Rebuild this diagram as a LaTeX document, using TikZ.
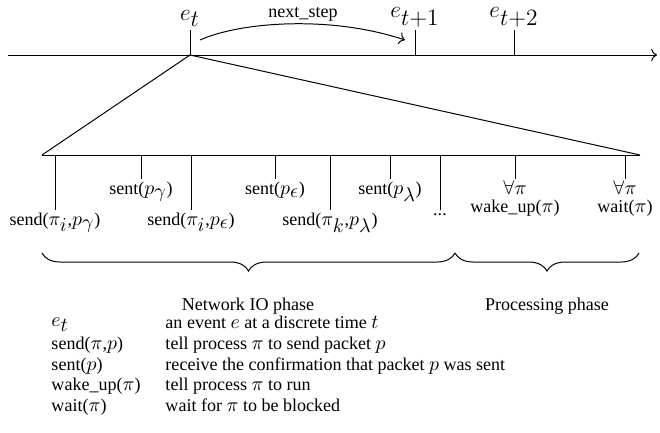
\RequirePackage{fix-cm}
\documentclass[tikz,border=0pt]{standalone}
\usepackage[no-math]{fontspec}
\setmainfont{Liberation Serif}
\usetikzlibrary{arrows.meta,decorations.pathreplacing}
\DeclareMathSizes{10}{11}{11}{8}
\DeclareMathSizes{12}{13}{13}{9}
\begin{document}
\begin{tikzpicture}[x=0.0195cm, y=-0.0195cm, line width=0.55pt,
  every node/.style={font=\rmfamily},
  toplbl/.style={anchor=south, inner sep=1.5pt, font=\rmfamily\large},
  botlbl/.style={anchor=north, inner sep=1.5pt},
  phaselbl/.style={anchor=base, inner sep=0pt},
  legkey/.style={anchor=base west, inner sep=0pt},
  legtxt/.style={anchor=base west, inner sep=0pt},
  phasebrace/.style={decorate, decoration={brace, mirror, amplitude=10pt}},
  tip/.style={-{To[length=3.2pt,width=7pt]}}]
\useasboundingbox (0,0) rectangle (660,433);

% time line
\coordinate (tl) at (8,55);
\coordinate (tr) at (657,55);
\draw[tip] (tl) -- (tr);

\coordinate (t0) at (190,55);  \coordinate (t0u) at (190,30);
\coordinate (t1) at (415,55);  \coordinate (t1u) at (415,30);
\coordinate (t2) at (514,55);  \coordinate (t2u) at (514,30);
\draw (t0) -- (t0u);
\draw (t1) -- (t1u);
\draw (t2) -- (t2u);
\node[toplbl] (et) at (t0u) {$e_t$};
\node[toplbl] (et1) at (t1u) {$e_{t+1}$};
\node[toplbl] (et2) at (t2u) {$e_{t+2}$};

% next step arrow
\coordinate (ns0) at (200,40);
\coordinate (ns1) at (405,40);
\draw[tip] (ns0) .. controls (240,22) and (330,15) .. (ns1);
\node[anchor=base, inner sep=0pt] (nslbl) at (303,17) {next\_step};

% zoom-in fan
\coordinate (fl) at (42,155);
\coordinate (fr) at (640,155);
\draw (t0) -- (fl);
\draw (t0) -- (fr);
\draw (fl) -- (fr);

% long ticks
\coordinate (a1) at (55,155);  \coordinate (a1d) at (55,210);
\coordinate (a2) at (191,155); \coordinate (a2d) at (191,210);
\coordinate (a3) at (330,155); \coordinate (a3d) at (330,210);
\coordinate (a4) at (440,155); \coordinate (a4d) at (440,210);
% short ticks
\coordinate (b1) at (141,155); \coordinate (b1d) at (141,179);
\coordinate (b2) at (275,155); \coordinate (b2d) at (275,179);
\coordinate (b3) at (390,155); \coordinate (b3d) at (390,179);
\coordinate (b4) at (515,155); \coordinate (b4d) at (515,179);
\coordinate (b5) at (625,155); \coordinate (b5d) at (625,179);
\foreach \p in {a1,a2,a3,a4,b1,b2,b3,b4,b5} {\draw (\p) -- (\p d);}

\node[botlbl] (s1) at (a1d) {send($\pi_i$,$p_\gamma$)};
\node[botlbl] (s2) at (a2d) {send($\pi_i$,$p_\epsilon$)};
\node[botlbl] (s3) at (a3d) {send($\pi_k$,$p_\lambda$)};
\node[botlbl] (s4) at (a4d) {...};
\node[botlbl] (r1) at (b1d) {sent($p_\gamma$)};
\node[botlbl] (r2) at (b2d) {sent($p_\epsilon$)};
\node[botlbl] (r3) at (b3d) {sent($p_\lambda$)};
\node[anchor=north, inner sep=0.5pt] (fa1) at (b4d) {$\forall\pi$};
\node[anchor=north, inner sep=0.5pt] (wk) at ([yshift=-1.8pt]fa1.south) {wake\_up($\pi$)};
\node[anchor=north, inner sep=0.5pt] (fa2) at (b5d) {$\forall\pi$};
\node[anchor=north, inner sep=0.5pt] (wt) at ([yshift=-1.8pt]fa2.south) {wait($\pi$)};

% braces
\coordinate (br0) at (42,253);
\coordinate (br1) at (455,253);
\coordinate (br2) at (639,253);
\draw[phasebrace] (br0) -- (br1);
\draw[phasebrace] (br1) -- (br2);
\node[phaselbl] (nio) at (248,310) {Network IO phase};
\node[phaselbl] (proc) at (547,310) {Processing phase};

% legend
\node[legkey] (k1) at (51,326.5) {$e_t$};
\node[legkey] (k2) at (51,349.5) {send($\pi$,$p$)};
\node[legkey] (k3) at (51,370) {sent($p$)};
\node[legkey] (k4) at (51,390.5) {wake\_up($\pi$)};
\node[legkey] (k5) at (51,411) {wait($\pi$)};
\node[legtxt] (d1) at (165,328) {an event $e$ at a discrete time $t$};
\node[legtxt] (d2) at (165,349.5) {tell process $\pi$ to send packet $p$};
\node[legtxt] (d3) at (165,370) {receive the confirmation that packet $p$ was sent};
\node[legtxt] (d4) at (165,390.5) {tell process $\pi$ to run};
\node[legtxt] (d5) at (165,411) {wait for $\pi$ to be blocked};
\end{tikzpicture}
\end{document}
